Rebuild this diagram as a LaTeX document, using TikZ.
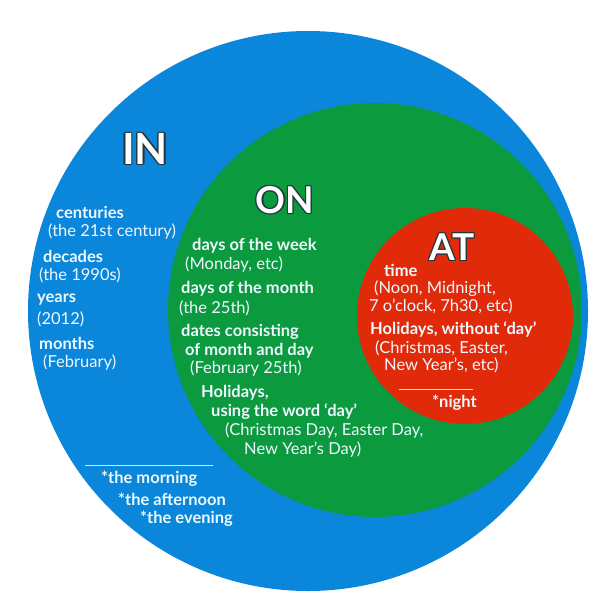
\documentclass[tikz,border=0pt]{standalone}
\usepackage{fontspec}
\setmainfont{Lato}
\definecolor{inblue}{HTML}{0A86DB}
\definecolor{ongreen}{HTML}{0C9A3E}
\definecolor{atred}{HTML}{E02A0A}
\definecolor{txtc}{HTML}{EEF8FF}
\definecolor{edgec}{HTML}{24343C}

% white word with a dark edge
\newcommand{\edgeword}[1]{%
    \rlap{\color{edgec}\kern-1.3pt#1}%
    \rlap{\color{edgec}\kern1.3pt#1}%
    \rlap{\color{edgec}\raisebox{1.3pt}{#1}}%
    \rlap{\color{edgec}\raisebox{-1.3pt}{#1}}%
    \rlap{\color{edgec}\kern-0.9pt\raisebox{0.9pt}{#1}}%
    \rlap{\color{edgec}\kern0.9pt\raisebox{0.9pt}{#1}}%
    \rlap{\color{edgec}\kern-0.9pt\raisebox{-0.9pt}{#1}}%
    \rlap{\color{edgec}\kern0.9pt\raisebox{-0.9pt}{#1}}%
    #1}

\tikzset{
    item/.style={anchor=west, inner sep=0pt, text=txtc, font=\fontsize{16.5}{18}\selectfont\bfseries},
    note/.style={anchor=west, inner sep=0pt, text=txtc, font=\fontsize{16.5}{18}\selectfont},
    title/.style={inner sep=0pt, text=white, font=\fontsize{#1}{#1}\selectfont\bfseries},
    rule/.style={draw=txtc!85!gray, line width=0.8pt}
}

\begin{document}
\begin{tikzpicture}[x=1pt, y=-1pt]
    \useasboundingbox (0,0) rectangle (600,600);
    % circles
    \fill[color=inblue] (308,311) circle (280);
    \fill[color=ongreen] (375,310) circle (207);
    \fill[color=atred] (465,316) circle (108);
    % titles
    \node[title=43] (in) at (145,149) {\edgeword{IN}};
    \node[title=37] (on) at (285,200) {\edgeword{ON}};
    \node[title=37] (at) at (452,247) {\edgeword{AT}};
    % IN
    \node[item] (cent) at (56,212) {centuries};
    \node[note] (centx) at (48,232) {(the 21st century)};
    \node[item] (dec) at (43,256) {decades};
    \node[note] (decx) at (39,275) {(the 1990s)};
    \node[item] (year) at (37,300) {years};
    \node[note] (yearx) at (37,319) {(2012)};
    \node[item] (month) at (39,343) {months};
    \node[note] (monthx) at (43,363) {(February)};
    \coordinate (inl) at (85,465);
    \coordinate (inr) at (213,465);
    \draw[rule] (inl) -- (inr);
    \node[item] (morn) at (101,479) {*the morning};
    \node[item] (aftn) at (118,499) {*the afternoon};
    \node[item] (even) at (140,519) {*the evening};
    % ON
    \node[item] (week) at (192,246) {days of the week};
    \node[note] (weekx) at (185,265) {(Monday, etc)};
    \node[item] (dom) at (181,289) {days of the month};
    \node[note] (domx) at (179,308) {(the 25th)};
    \node[item] (dates) at (181,332) {dates consisting};
    \node[item] (dates2) at (185,351) {of month and day};
    \node[note] (datesx) at (190,369) {(February 25th)};
    \node[item] (hol) at (201,393) {Holidays,};
    \node[item] (hol2) at (211,412) {using the word ‘day’};
    \node[note] (holx) at (225,431) {(Christmas Day, Easter Day,};
    \node[note] (holx2) at (244,450) {New Year’s Day)};
    % AT
    \node[item] (time) at (384,270) {time};
    \node[note] (timex) at (374,289) {(Noon, Midnight,};
    \node[note] (timex2) at (369,306) {7 o’clock, 7h30, etc)};
    \node[item] (hols) at (370,329) {Holidays, without ‘day’};
    \node[note] (holsx) at (375,348) {(Christmas, Easter,};
    \node[note] (holsx2) at (384,365) {New Year’s, etc)};
    \coordinate (atl) at (399,389);
    \coordinate (atr) at (473,389);
    \draw[rule] (atl) -- (atr);
    \node[item] (night) at (432,403) {*night};
\end{tikzpicture}
\end{document}
